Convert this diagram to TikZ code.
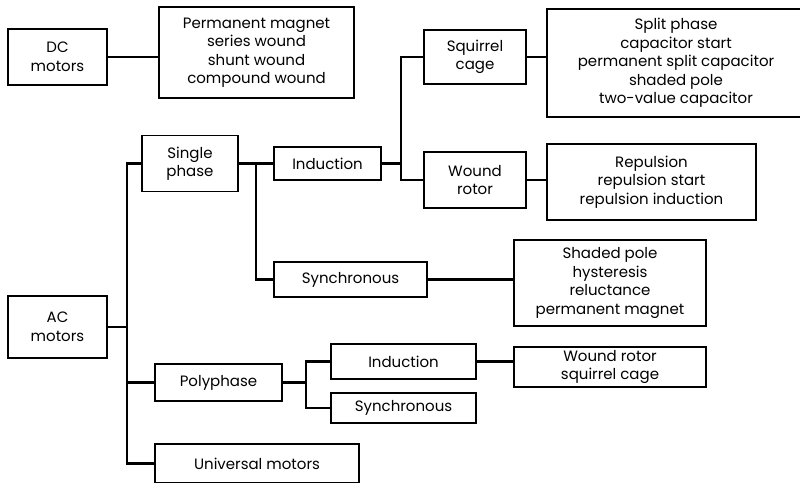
\documentclass[tikz,border=0pt]{standalone}
\usepackage{fontspec}
\setmainfont{Poppins}
\begin{document}
\begin{tikzpicture}[x=1pt,y=-1pt,
  box/.style={draw, line width=1.1pt, align=center, inner sep=0pt,
    font=\fontsize{15}{18.5}\selectfont, anchor=center},
  link/.style={line width=2.4pt, line cap=butt, line join=miter}]
\useasboundingbox (0,0) rectangle (800,482);
\clip (0,0) rectangle (800,482);

% DC branch
\node[box, minimum width=99, minimum height=56] (dc) at (57.5,57) {DC\\motors};
\node[box, minimum width=195, minimum height=91] (dclist) at (256.5,52.5)
  {Permanent magnet\\series wound\\shunt wound\\compound wound};

% AC branch
\node[box, minimum width=99, minimum height=62] (ac) at (57.5,327) {AC\\motors};
\node[box, minimum width=96, minimum height=56] (single) at (190,163.5) {Single\\phase};
\node[box, minimum width=127, minimum height=37] (poly) at (218.5,382.5) {Polyphase};
\node[box, minimum width=204, minimum height=39] (univ) at (257,463.5) {Universal motors};

% single phase
\node[box, minimum width=107, minimum height=33] (ind1) at (327.5,163.5) {Induction};
\node[box, minimum width=153, minimum height=35] (sync1) at (350.5,279.5) {Synchronous};
\node[box, minimum width=102, minimum height=54] (sq) at (475,57) {Squirrel\\cage};
\node[box, minimum width=102, minimum height=56] (wr) at (475,180) {Wound\\rotor};
\node[box, minimum width=258, minimum height=108] (sqlist) at (676,63)
  {Split phase\\capacitor start\\permanent split capacitor\\shaded pole\\two-value capacitor};
\node[box, minimum width=209, minimum height=76] (wrlist) at (651.5,182)
  {Repulsion\\repulsion start\\repulsion induction};
\node[box, minimum width=192, minimum height=86] (synlist) at (610,283)
  {Shaded pole\\hysteresis\\reluctance\\permanent magnet};

% polyphase
\node[box, minimum width=145, minimum height=35] (ind2) at (403.5,361.5) {Induction};
\node[box, minimum width=145, minimum height=30] (sync2) at (403.5,408) {Synchronous};
\node[box, minimum width=192, minimum height=40] (indlist) at (610,367)
  {Wound rotor\\squirrel cage};

% junction points of the connecting buses
\coordinate (busA) at (127,327);
\coordinate (j1) at (256,163.5);
\coordinate (j2) at (401,163.5);
\coordinate (j3) at (306,382.5);

% connectors
\draw[link] (dc.east) -- (dc.east -| dclist.west);
\draw[link] (ac.east) -- (busA);
\draw[link] (single.west) -| (busA) |- (univ.west);
\draw[link] (busA |- poly.west) -- (poly.west);
\draw[link] (single.east) -- (ind1.west);
\draw[link] (j1) |- (sync1.west);
\draw[link] (ind1.east) -- (j2);
\draw[link] (sq.west) -| (j2) |- (wr.west);
\draw[link] (sq.east) -- (sq.east -| sqlist.west);
\draw[link] (wr.east) -- (wr.east -| wrlist.west);
\draw[link] (sync1.east) -- (sync1.east -| synlist.west);
\draw[link] (poly.east) -- (j3);
\draw[link] (ind2.west) -| (j3) |- (sync2.west);
\draw[link] (ind2.east) -- (ind2.east -| indlist.west);
\end{tikzpicture}
\end{document}
